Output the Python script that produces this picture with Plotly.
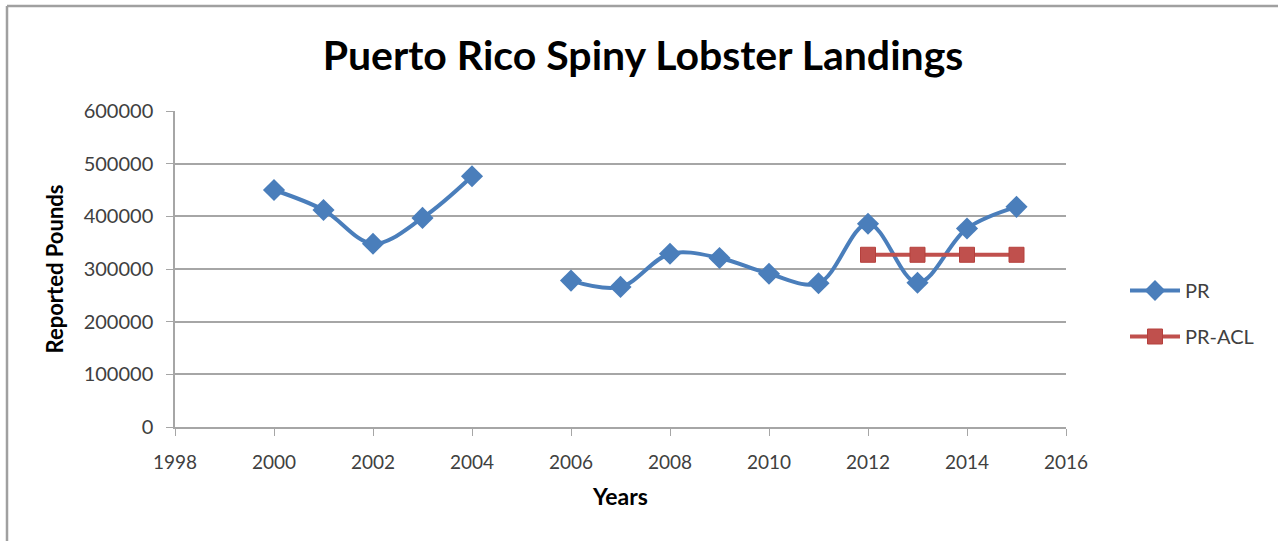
import plotly.graph_objects as go

years = [2000, 2001, 2002, 2003, 2004, 2005, 2006, 2007, 2008, 2009, 2010, 2011, 2012, 2013, 2014, 2015]
pr = [450000, 412000, 348000, 397000, 476000, None, 278000, 266000, 329000, 321000, 291000, 273000, 386000, 274000, 377000, 418000]
acl_years = [2012, 2013, 2014, 2015]
pr_acl = [327000, 327000, 327000, 327000]

FONT = "Lato"
fig = go.Figure()
fig.add_trace(go.Scatter(
    x=years, y=pr, name="PR", mode="lines+markers", legendgroup="a",
    line=dict(color="#4A7EBB", width=4, shape="spline", smoothing=1.0),
    marker=dict(symbol="diamond", size=17, color="#4A7EBB"),
    connectgaps=False,
))
fig.add_trace(go.Scatter(
    x=acl_years, y=pr_acl, name="PR-ACL", mode="lines+markers", legendgroup="b",
    line=dict(color="#C0504D", width=4),
    marker=dict(symbol="square", size=15, color="#C0504D", line=dict(color="#B5403D", width=1)),
))

grid = "#A6A6A6"
fig.update_layout(
    width=1278, height=541,
    margin=dict(l=175, r=212, t=111, b=114),
    paper_bgcolor="white", plot_bgcolor="white",
    font=dict(family=FONT, size=19, color="#404040"),
    title=dict(text="<b>Puerto Rico Spiny Lobster Landings</b>",
               font=dict(family=FONT, size=41, color="black"),
               x=(643 - 175) / 891, xref="paper", xanchor="center",
               y=1 - 56 / 541, yref="container", yanchor="middle"),
    xaxis=dict(range=[1998, 2016], tickmode="array",
               tickvals=[1998, 2000, 2002, 2004, 2006, 2008, 2010, 2012, 2014, 2016],
               showgrid=False, zeroline=False, showline=True, linecolor=grid, linewidth=1.5,
               ticks="outside", ticklen=7, tickcolor=grid, ticklabelstandoff=10,
               tickfont=dict(size=19, color="#404040"),
               title=dict(text="<b>Years</b>", font=dict(size=23, color="black"), standoff=17)),
    yaxis=dict(range=[0, 600000], tickmode="array",
               tickvals=[0, 100000, 200000, 300000, 400000, 500000, 600000],
               ticktext=["0", "100000", "200000", "300000", "400000", "500000", "600000"],
               showgrid=True, gridcolor=grid, gridwidth=1.5, zeroline=False,
               showline=True, linecolor=grid, linewidth=1.5,
               ticks="outside", ticklen=7, tickcolor=grid, ticklabelstandoff=9,
               tickfont=dict(size=20, color="#404040"),
               title=dict(text="<b>Reported Pounds</b>", font=dict(size=22, color="black"), standoff=14)),
    legend=dict(x=(1125 - 175) / 891, xanchor="left", y=(427 - 271) / 316, yanchor="top",
                font=dict(size=20, color="#404040"), tracegroupgap=17, itemwidth=50,
                bgcolor="rgba(0,0,0,0)"),
    showlegend=True,
)

# chart border (outer frame, partially visible)
bx0 = (7 - 175) / 891
by1 = (427 - 6) / 316
fig.add_shape(type="line", xref="paper", yref="paper", x0=bx0, x1=1.3, y0=by1, y1=by1,
              line=dict(color="#A0A0A0", width=2.5))
fig.add_shape(type="line", xref="paper", yref="paper", x0=bx0, x1=bx0, y0=by1, y1=-0.5,
              line=dict(color="#A0A0A0", width=2.5))

fig.write_html("out.html")
